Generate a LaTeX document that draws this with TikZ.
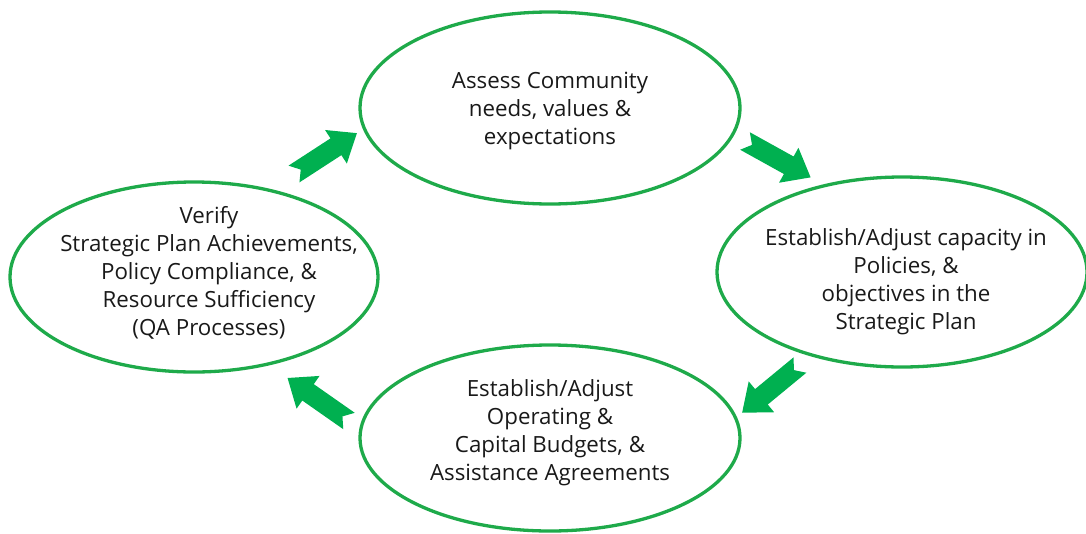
\documentclass[tikz,border=0pt]{standalone}
\usepackage{fontspec}
\setmainfont{Open Sans}
\usetikzlibrary{shapes.geometric}
\definecolor{ogreen}{HTML}{00B050}
\definecolor{ringgreen}{HTML}{1EAA4A}
\tikzset{
  ring/.style={draw=ringgreen, line width=3.3pt, ellipse, inner sep=0pt},
  txt/.style={align=center, font=\fontsize{22.3}{28}\selectfont, text=black!90, inner sep=0pt},
  blockarrow/.style={fill=ogreen, draw=none},
}
\begin{document}
\begin{tikzpicture}[x=1pt,y=-1pt]
\useasboundingbox (0,0) rectangle (1086,533);
% ellipses
\node[ring, minimum width=380pt, minimum height=192pt] (assess) at (550,108) {};
\node[ring, minimum width=370pt, minimum height=190pt] (establishcap) at (902,272) {};
\node[ring, minimum width=380pt, minimum height=186pt] (budget) at (550,438) {};
\node[ring, minimum width=368pt, minimum height=190pt] (verify) at (194,277) {};
% texts
\node[txt] (assesstxt) at (550,111) {Assess Community\\needs, values \&\\expectations};
\node[txt] (captxt) at (906,282) {Establish/Adjust capacity in\\Policies, \&\\objectives in the\\Strategic Plan};
\node[txt] (budgettxt) at (550,433) {Establish/Adjust\\Operating \&\\Capital Budgets, \&\\Assistance Agreements};
\node[txt] (verifytxt) at (209,273) {Verify\\Strategic Plan Achievements,\\Policy Compliance, \&\\Resource Sufficiency\\(QA Processes)};
% block arrows
\foreach \name/\px/\py/\ang in {a1/294/174/33, a2/745/141/-29, a3/800/365/219.5, a4/349/421/145}{
  \begin{scope}[shift={(\px,\py)}, rotate=\ang]
    \fill[blockarrow] (0,-10) -- (50,-10) -- (50,-20) -- (75,0) -- (50,20) -- (50,10) -- (0,10) -- (8,0) -- cycle;
    \coordinate (\name) at (0,0);
  \end{scope}
}
\end{tikzpicture}
\end{document}
